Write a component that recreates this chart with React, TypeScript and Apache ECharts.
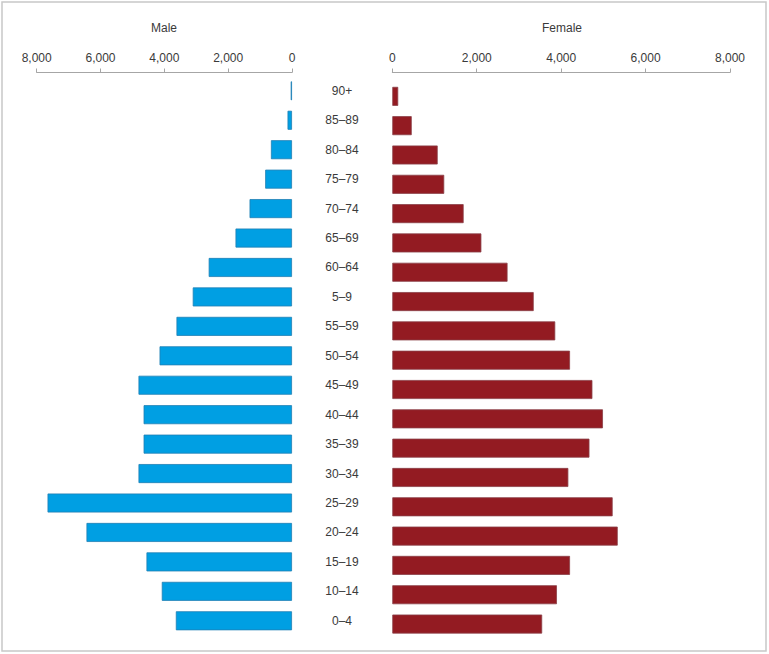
import React, { useEffect, useRef } from "react";
import * as echarts from "echarts";

const ageGroups = [
  "90+", "85–89", "80–84", "75–79", "70–74", "65–69", "60–64", "5–9", "55–59", "50–54",
  "45–49", "40–44", "35–39", "30–34", "25–29", "20–24", "15–19", "10–14", "0–4",
];
const maleValues = [40, 140, 660, 840, 1330, 1770, 2610, 3110, 3620, 4150, 4810, 4650, 4650, 4810, 7660, 6440, 4560, 4080, 3640];
const femaleValues = [140, 460, 1075, 1230, 1690, 2110, 2730, 3350, 3860, 4210, 4740, 4990, 4670, 4170, 5220, 5340, 4210, 3900, 3550];
const axisMin = 0;
const axisMax = 8000;
const axisStep = 2000;
const maleTitle = "Male";
const femaleTitle = "Female";

const FONT = "'Liberation Sans', Arial, sans-serif";
const TICK_FONT = "'Liberation Sans Narrow', 'Liberation Sans', Arial, sans-serif";
const TEXT = "#3a3a3a";
const AXIS = "#a6a6a6";

export default function App() {
  const ref = useRef<HTMLDivElement>(null);
  useEffect(() => {
    document.body.style.margin = "0";
    const chart = echarts.init(ref.current!, null, { renderer: "svg" });
    const axisLineY = 72.5;
    const maleGrid = { left: 36.7, width: 255.3, top: 76.1, height: 559.4 };
    const femaleGrid = { left: 392.3, width: 337.7, top: 81.7, height: 557 };
    const xCommon = (gridIndex: number, inverse: boolean, offset: number) => ({
      gridIndex,
      type: "value",
      position: "top",
      inverse,
      min: axisMin,
      max: axisMax,
      interval: axisStep,
      offset,
      axisLine: { show: true, lineStyle: { color: AXIS, width: 1 } },
      axisTick: { show: true, length: 4, lineStyle: { color: AXIS, width: 1 } },
      splitLine: { show: false },
      axisLabel: {
        margin: 9,
        fontSize: 12,
        color: TEXT,
        fontFamily: TICK_FONT,
        formatter: (v: number) => v.toLocaleString("en-US"),
      },
    });
    chart.setOption({
      animation: false,
      backgroundColor: "#ffffff",
      textStyle: { fontFamily: FONT },
      grid: [
        { ...maleGrid, containLabel: false },
        { ...femaleGrid, containLabel: false },
      ],
      xAxis: [
        xCommon(0, true, maleGrid.top - axisLineY),
        xCommon(1, false, femaleGrid.top - axisLineY),
      ],
      yAxis: [
        {
          gridIndex: 0,
          type: "category",
          data: ageGroups,
          inverse: true,
          position: "right",
          axisLine: { show: false },
          axisTick: { show: false },
          splitLine: { show: false },
          axisLabel: { show: true, align: "center", margin: 50, fontSize: 12, color: TEXT, fontFamily: FONT },
        },
        {
          gridIndex: 1,
          type: "category",
          data: ageGroups,
          inverse: true,
          show: false,
        },
      ],
      series: [
        {
          name: maleTitle,
          type: "bar",
          xAxisIndex: 0,
          yAxisIndex: 0,
          data: maleValues,
          barWidth: 19,
          itemStyle: { color: "#009fe3", borderColor: "#1f7fb4", borderWidth: 0.8 },
        },
        {
          name: femaleTitle,
          type: "bar",
          xAxisIndex: 1,
          yAxisIndex: 1,
          data: femaleValues,
          barWidth: 19,
          itemStyle: { color: "#931b22", borderColor: "#8a4048", borderWidth: 0.8 },
        },
      ],
      graphic: [
        {
          type: "rect",
          shape: { x: 2, y: 2, width: 764, height: 649 },
          style: { fill: "none", stroke: "#c8c8c8", lineWidth: 1.5 },
          silent: true,
        },
        {
          type: "text",
          x: 164,
          y: 28,
          style: { text: maleTitle, fontSize: 12, fill: TEXT, fontFamily: FONT, textAlign: "center", textVerticalAlign: "middle" },
        },
        {
          type: "text",
          x: 562,
          y: 28,
          style: { text: femaleTitle, fontSize: 12, fill: TEXT, fontFamily: FONT, textAlign: "center", textVerticalAlign: "middle" },
        },
      ],
    });
    return () => chart.dispose();
  }, []);
  return <div ref={ref} style={{ position: "absolute", left: 0, top: 0, width: 769, height: 654 }} />;
}
